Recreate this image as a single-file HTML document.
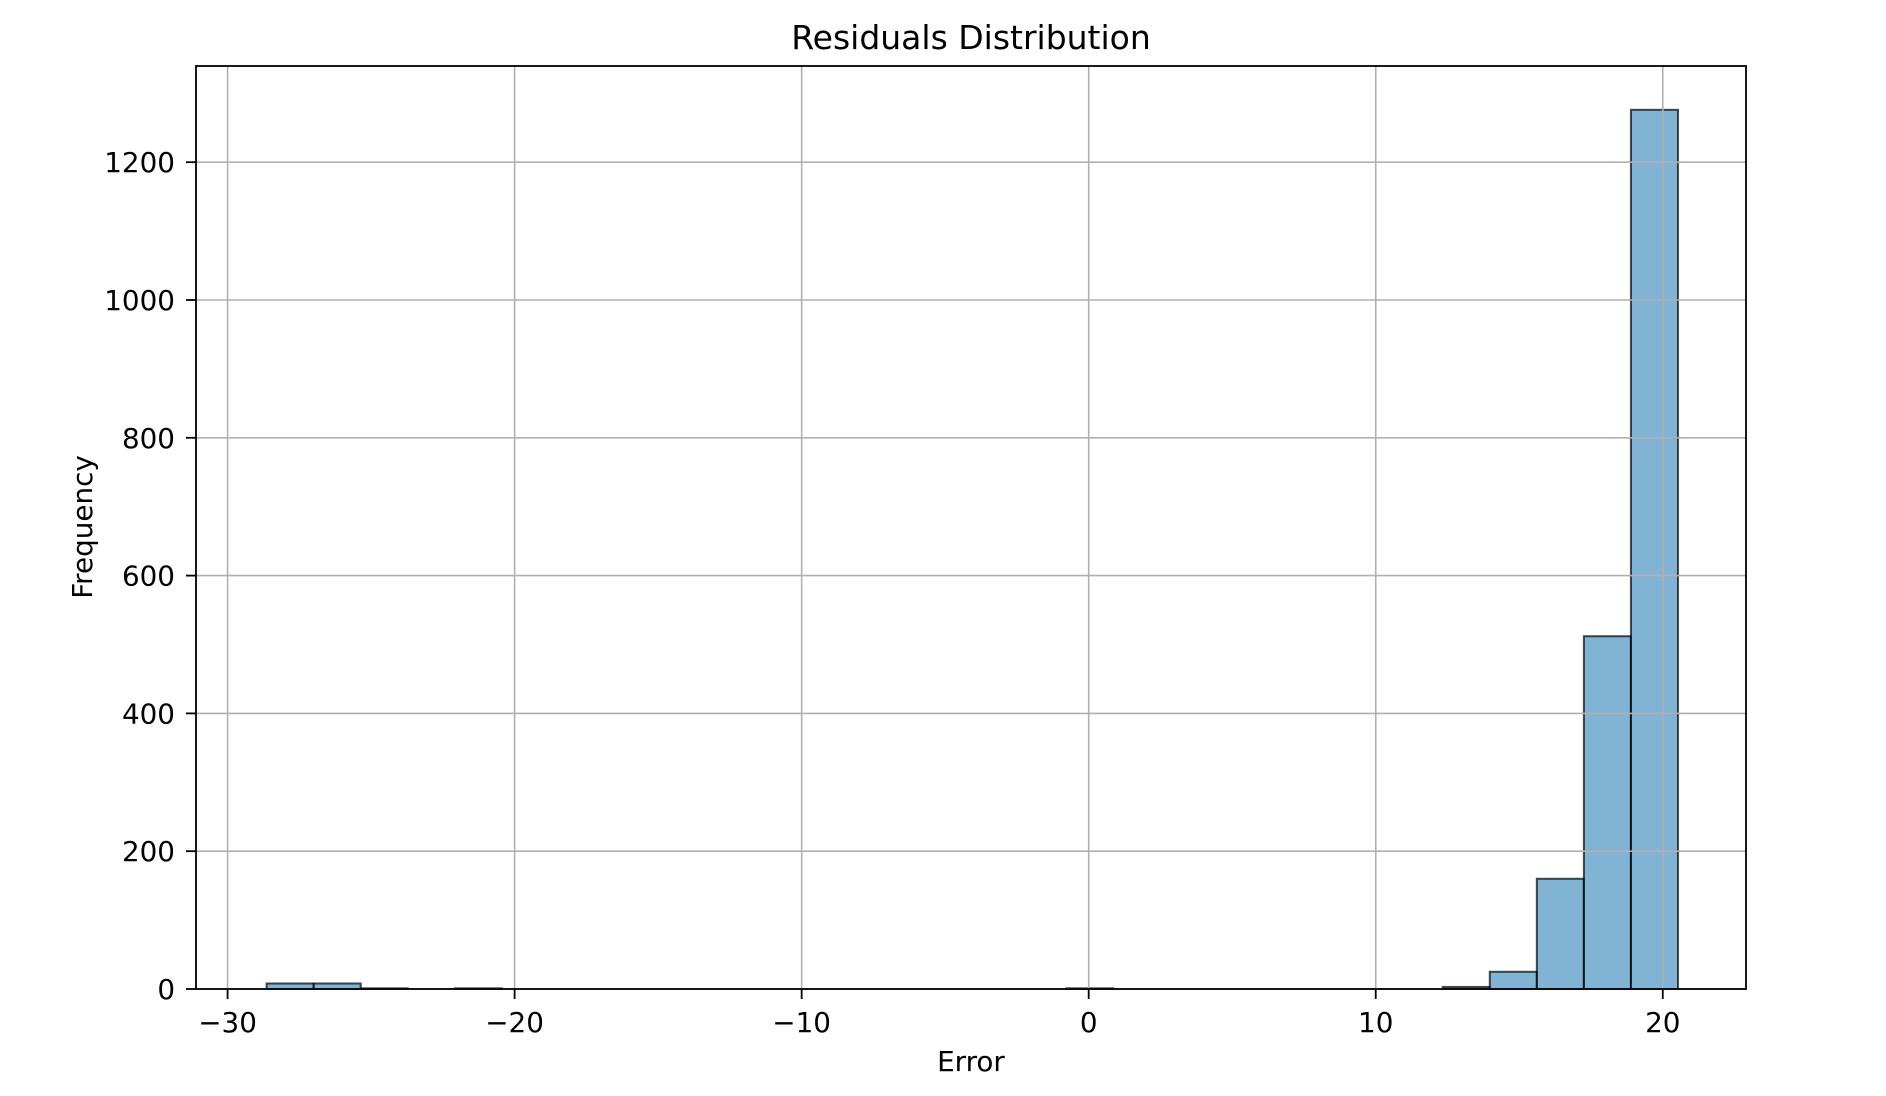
<!DOCTYPE html>
<html><head><meta charset="utf-8"><style>
html,body{margin:0;padding:0;background:#fff;}
svg{display:block;font-family:"DejaVu Sans","Liberation Sans",sans-serif;}
</style></head><body>
<svg id="chart" width="1886" height="1096" xmlns="http://www.w3.org/2000/svg">
<rect width="1886" height="1096" fill="#fff"/>
<g id="bars"></g>
<g id="grid"></g>
<g id="axes"></g>
<text x="971" y="49" font-size="33" text-anchor="middle">Residuals Distribution</text>
<text x="971" y="1071" font-size="27.8" text-anchor="middle">Error</text>
<text x="0" y="0" font-size="27.8" text-anchor="middle" transform="translate(92,527) rotate(-90)">Frequency</text>
</svg>
<script>
const binStart = -28.64;
const binEnd = 20.53;
const counts = [8,8,1,0,1,0,0,0,0,0,0,0,0,0,0,0,0,1,0,0,0,0,0,0,0,3,25,160,512,1276];
const xTicks = [-30,-20,-10,0,10,20];
const xTickLabels = ["\u221230","\u221220","\u221210","0","10","20"];
const yTicks = [0,200,400,600,800,1000,1200];
const yTickLabels = ["0","200","400","600","800","1000","1200"];

const L=196,R=1746,T=66,B=989;
const xMin=-31.1, xMax=22.9, yMax=1339.6;
const xs=v=>L+(v-xMin)/(xMax-xMin)*(R-L);
const ys=v=>B-v/yMax*(B-T);
const NS="http://www.w3.org/2000/svg";
function mk(tag,attrs,parent){const e=document.createElementNS(NS,tag);for(const k in attrs)e.setAttribute(k,attrs[k]);parent.appendChild(e);return e;}
const bars=document.getElementById('bars'),grid=document.getElementById('grid'),axes=document.getElementById('axes');
const w=(binEnd-binStart)/counts.length;
counts.forEach((c,i)=>{
  const x0=xs(binStart+i*w),x1=xs(binStart+(i+1)*w);
  const r=mk('rect',{x:x0,y:ys(c),width:x1-x0,height:B-ys(c),fill:'rgba(31,119,180,0.56)',stroke:'rgba(0,0,0,0.7)','stroke-width':2},bars);
  
  
});
xTicks.forEach((t,i)=>{
  const x=xs(t);
  const g=mk('line',{x1:x,x2:x,y1:T,y2:B,stroke:'#b0b0b0','stroke-width':1.6},grid);
  
  
  mk('line',{x1:x,x2:x,y1:B,y2:B+10,stroke:'#000','stroke-width':1.8},axes);
  const tx=mk('text',{x:x,y:B+43,'font-size':27.8,'text-anchor':'middle'},axes);
  tx.textContent=xTickLabels[i];
  
  
});
yTicks.forEach((t,i)=>{
  const y=ys(t);
  const g=mk('line',{x1:L,x2:R,y1:y,y2:y,stroke:'#b0b0b0','stroke-width':1.6},grid);
  
  
  mk('line',{x1:L-10,x2:L,y1:y,y2:y,stroke:'#000','stroke-width':1.8},axes);
  const tx=mk('text',{x:L-21,y:y+10,'font-size':27.8,'text-anchor':'end'},axes);
  tx.textContent=yTickLabels[i];
  
  
});
const fr=mk('rect',{x:L,y:T,width:R-L,height:B-T,fill:'none',stroke:'#000','stroke-width':1.8},axes);


</script>
</body></html>
